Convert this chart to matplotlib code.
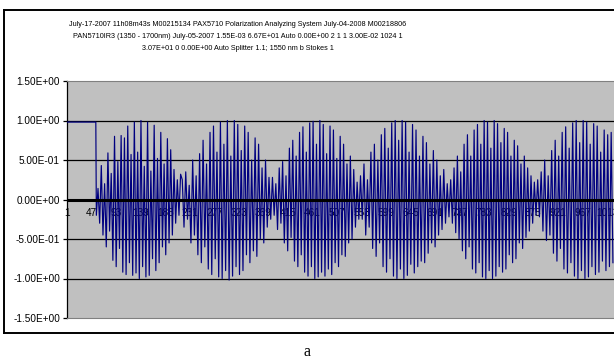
import numpy as np
import matplotlib.pyplot as plt
from matplotlib.lines import Line2D

plt.rcParams['font.family'] = ['Liberation Sans', 'DejaVu Sans']

# title text (three lines, as in the Excel chart)
title_lines = [
    "July-17-2007 11h08m43s M00215134 PAX5710 Polarization Analyzing System July-04-2008 M00218806",
    "PAN5710IR3 (1350 - 1700nm) July-05-2007 1.55E-03 6.67E+01 Auto 0.00E+00 2 1 1 3.00E-02 1024 1",
    "3.07E+01 0 0.00E+00 Auto Splitter 1.1; 1550 nm b Stokes 1",
]

# category labels shown on the x axis
x_labels = [1, 47, 93, 139, 185, 231, 277, 323, 369, 415, 461, 507, 553,
            599, 645, 691, 737, 783, 829, 875, 921, 967, 1013]
n_samples = 1024

y_ticks = [-1.5, -1.0, -0.5, 0.0, 0.5, 1.0, 1.5]
y_labels = ['-1.50E+00', '-1.00E+00', '-5.00E-01', '0.00E+00',
            '5.00E-01', '1.00E+00', '1.50E+00']

# flat start of the trace
flat_end = 55
flat_value = 0.98

# sample numbers where the beating envelope is at its minimum
node_samples = [56, 217, 386, 551, 720, 883, 1024]

# spike tops / bottoms, one list per hump
hump_peaks = [
    [0.32, 0.14, 0.43, 0.20, 0.59, 0.33, 0.80, 0.48, 0.81, 0.78, 0.93, 0.57, 0.98,
     0.60, 1.00, 0.42, 0.98, 0.36, 0.94, 0.52, 0.85, 0.45, 0.77, 0.63, 0.38, 0.25],
    [0.25, 0.35, 0.18, 0.50, 0.30, 0.58, 0.75, 0.45, 0.85, 0.93, 0.60, 0.98, 0.70,
     1.00, 0.55, 1.00, 0.95, 0.62, 0.93, 0.85, 0.50, 0.78, 0.70, 0.40, 0.50, 0.28],
    [0.28, 0.20, 0.40, 0.48, 0.30, 0.65, 0.75, 0.55, 0.85, 0.92, 0.60, 0.97, 0.99,
     0.70, 1.00, 0.95, 0.58, 0.93, 0.88, 0.52, 0.80, 0.70, 0.45, 0.55, 0.38, 0.22],
    [0.30, 0.45, 0.25, 0.60, 0.70, 0.50, 0.82, 0.90, 0.65, 0.97, 1.00, 0.75, 1.00,
     0.98, 0.60, 0.95, 0.88, 0.55, 0.80, 0.72, 0.45, 0.62, 0.50, 0.30, 0.38, 0.20],
    [0.25, 0.40, 0.55, 0.35, 0.70, 0.82, 0.55, 0.88, 0.95, 0.70, 1.00, 0.98, 0.65,
     1.00, 0.96, 0.72, 0.90, 0.85, 0.55, 0.75, 0.68, 0.45, 0.55, 0.40, 0.30, 0.22],
    [0.25, 0.35, 0.50, 0.30, 0.62, 0.75, 0.55, 0.85, 0.92, 0.65, 0.97, 1.00, 0.72,
     1.00, 0.98, 0.70, 0.96, 0.93, 0.60, 0.88, 0.82, 0.85],
]
hump_troughs = [
    [-0.20, -0.30, -0.45, -0.60, -0.40, -0.77, -0.85, -0.62, -0.92, -0.95, -0.80, -0.96, -0.93,
     -1.00, -0.85, -0.98, -0.96, -0.75, -0.90, -0.80, -0.60, -0.70, -0.55, -0.45, -0.30, -0.20],
    [-0.35, -0.25, -0.55, -0.45, -0.70, -0.80, -0.60, -0.88, -0.95, -0.75, -0.98, -1.00, -0.90,
     -1.02, -0.97, -0.85, -0.95, -0.90, -0.70, -0.80, -0.65, -0.72, -0.50, -0.55, -0.35, -0.25],
    [-0.20, -0.38, -0.30, -0.55, -0.65, -0.48, -0.78, -0.85, -0.70, -0.92, -0.97, -0.85, -1.00,
     -0.98, -0.92, -0.97, -0.88, -0.95, -0.80, -0.85, -0.70, -0.72, -0.55, -0.50, -0.35, -0.25],
    [-0.25, -0.45, -0.35, -0.62, -0.72, -0.55, -0.85, -0.92, -0.75, -0.97, -1.00, -0.88, -1.00,
     -0.96, -0.82, -0.93, -0.85, -0.78, -0.80, -0.68, -0.55, -0.60, -0.45, -0.38, -0.30, -0.22],
    [-0.30, -0.42, -0.50, -0.65, -0.75, -0.60, -0.88, -0.93, -0.80, -0.98, -1.00, -0.90, -1.00,
     -0.97, -0.85, -0.92, -0.88, -0.70, -0.80, -0.75, -0.55, -0.62, -0.48, -0.40, -0.30, -0.20],
    [-0.22, -0.40, -0.52, -0.45, -0.68, -0.78, -0.62, -0.88, -0.93, -0.80, -0.97, -1.00, -0.90,
     -1.00, -0.98, -0.85, -0.95, -0.92, -0.78, -0.90, -0.85, -0.80],
]

# build the trace: flat part, then peak/trough pairs spread over each hump
xs = [1, flat_end]
ys = [flat_value, flat_value]
for i in range(len(hump_peaks)):
    pk = hump_peaks[i]
    tr = hump_troughs[i]
    vals = []
    for a, b in zip(pk, tr):
        vals += [a, b]
    last = i == len(hump_peaks) - 1
    pos = np.linspace(node_samples[i], node_samples[i + 1], len(vals), endpoint=last)
    xs += list(pos)
    # first hump starts with a trough right after the drop
    ys += list(vals[1:] + vals[:1]) if i == 0 else vals

W, H = 614, 362
fig = plt.figure(figsize=(W / 100, H / 100), dpi=100)

# outer chart border (right side cut off in the original)
bx0, by0, by1 = 4 / W, 1 - 10 / H, 1 - 333 / H
for xx, yy in [([bx0, bx0], [by0, by1]), ([bx0, 1.0], [by0, by0]), ([bx0, 1.0], [by1, by1])]:
    fig.add_artist(Line2D(xx, yy, transform=fig.transFigure, color='black', lw=1.4))

for k, line in enumerate(title_lines):
    fig.text(238 / W, 1 - (25 + 12 * k) / H, line, ha='center', va='center', fontsize=5.2)

fig.text(307 / W, 1 - 352 / H, 'a', ha='center', va='center', fontsize=11.5,
         family='Liberation Serif')

left, right, top, bottom = 67, 614, 81, 318
ax = fig.add_axes([left / W, 1 - bottom / H, (right - left) / W, (bottom - top) / H])
ax.set_facecolor('#c0c0c0')
ax.set_xlim(1, 1026)
ax.set_ylim(-1.5, 1.5)

for v in [-1.0, -0.5, 0.5, 1.0]:
    ax.axhline(v, color='black', lw=0.9, zorder=1)

ax.plot(xs, ys, color='#000080', lw=0.85, zorder=3)
ax.axhline(0, color='black', lw=2.2, zorder=4)

for lab in x_labels:
    ax.annotate(str(lab), (lab, 0), xytext=(0, -10), textcoords='offset points',
                ha='center', va='center', fontsize=7.2, zorder=2, annotation_clip=False)

ax.set_xticks([])
ax.set_yticks(y_ticks)
ax.set_yticklabels(y_labels, fontsize=7.2)
ax.tick_params(axis='y', direction='out', length=3, width=0.9, pad=2)
for s in ['top', 'bottom', 'right']:
    ax.spines[s].set_color('#808080')
ax.spines['right'].set_visible(False)
ax.spines['left'].set_color('black')
ax.spines['left'].set_linewidth(0.9)

fig.savefig('out.png', dpi=100)
